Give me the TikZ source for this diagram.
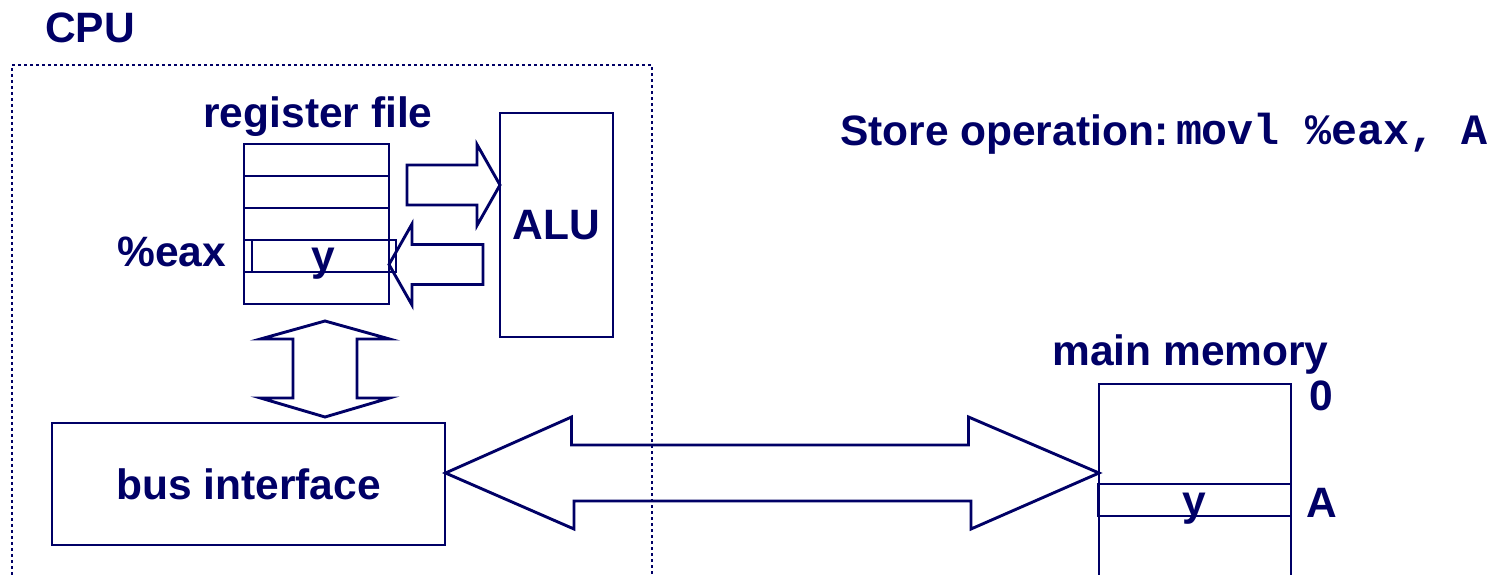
\documentclass[tikz,border=0pt]{standalone}
\usepackage{fontspec}
\setmainfont{Liberation Sans}
\newfontfamily\codefont{Liberation Mono}
\usetikzlibrary{calc}
\definecolor{ink}{RGB}{0,0,102}
\begin{document}
\begin{tikzpicture}[x=1pt,y=-1pt,line width=2.9pt,
  lbl/.style={font=\fontsize{42.5}{50}\selectfont\bfseries,text=ink,inner sep=0pt,outer sep=0pt},
  code/.style={font=\fontsize{43.3}{50}\selectfont\codefont\bfseries,text=ink,inner sep=0pt,outer sep=0pt},
  box/.style={draw=ink,rectangle,inner sep=0pt,outer sep=0pt},
  regrow/.style={box,minimum width=145pt,minimum height=32pt},
  blk/.style={draw=ink,line join=miter},
  cpuframe/.style={draw=ink,rectangle,line width=2.7pt,dash pattern=on 2.7pt off 3.3pt,inner sep=0pt,outer sep=0pt}]
\useasboundingbox (0,0) rectangle (1494,575);
\clip (0,0) rectangle (1494,575);

% CPU frame and title
\node[cpuframe,minimum width=640pt,minimum height=535pt] (cpubox) at (332,332.5) {};
\node[lbl,anchor=base west] (cpu) at (45,43) {CPU};

% register file
\node[lbl,anchor=base] (rflabel) at (318,128) {register file};
\node[regrow] (r1) at (316.5,160) {};
\node[regrow] (r2) at (316.5,192) {};
\node[regrow] (r3) at (316.5,224) {};
\node[regrow] (r4) at (316.5,256) {};
\node[regrow] (r5) at (316.5,288) {};
\node[box,minimum width=144pt,minimum height=32pt] (eaxbox) at (324,256) {};
\node[lbl,anchor=base] (yreg) at (323,270) {y};
\node[lbl,anchor=base east] (eaxlbl) at (226,266) {\%eax};

% ALU
\node[box,lbl,draw=ink,minimum width=113pt,minimum height=224pt] (alu) at (556.5,225) {ALU};

% bus interface
\node[box,lbl,draw=ink,minimum width=393pt,minimum height=122pt] (bus) at (248.5,484) {bus interface};

% main memory
\node[lbl,anchor=base] (mmlabel) at (1190.5,365) {main memory};
\node[box,minimum width=192pt,minimum height=216pt] (mem) at (1195,492) {};
\node[box,minimum width=193pt,minimum height=32pt] (memrow) at (1194.5,500) {};
\node[lbl,anchor=base] (ymem) at (1194,515) {y};
\node[lbl,anchor=base] (addr0) at (1321,410) {0};
\node[lbl,anchor=base] (addrA) at (1322,517) {A};

% instruction
\node[lbl,anchor=base west] (store) at (840,146) {Store operation:};
\node[code,anchor=base west] (instr) at (1176,145) {movl \%eax, A};

% register file -> ALU
\coordinate (a1s) at (407,185);
\coordinate (a1t) at (alu.west |- a1s);
\draw[blk] ($(a1s)+(0,-20)$) -- ++(70,0) -- ++(0,-20.5) -- (a1t)
  -- ++(-23,40.5) -- ++(0,-20.5) -- ++(-70,0) -- cycle;

% ALU -> %eax
\coordinate (a2s) at (483,264.5);
\coordinate (a2t) at (r4.east |- a2s);
\draw[blk] ($(a2s)+(0,-20)$) -- ++(-71,0) -- ++(0,-20.5) -- (a2t)
  -- ++(23,40.5) -- ++(0,-20.5) -- ++(71,0) -- cycle;

% register file <-> bus interface
\coordinate (vt) at ($(r5.south)+(8.5,17)$);
\coordinate (vb) at ($(bus.north)+(76.5,-6)$);
\draw[blk] (vt) -- ++(64.5,18) -- ++(-32.5,0) -- ++(0,59) -- ++(32.5,0) -- (vb)
  -- ++(-64.5,-19) -- ++(32.5,0) -- ++(0,-59) -- ++(-32.5,0) -- cycle;

% bus interface <-> main memory
\coordinate (bl) at ($(bus.east)+(0.5,-11)$);
\coordinate (br) at (mem.west |- bl);
\draw[blk] (bl) -- ++(126,-56) -- ++(0,28) -- ++(397,0) -- ++(0,-28) -- (br)
  -- ++(-128,56) -- ++(0,-28) -- ++(-397,0) -- ++(0,28) -- cycle;
\end{tikzpicture}
\end{document}
